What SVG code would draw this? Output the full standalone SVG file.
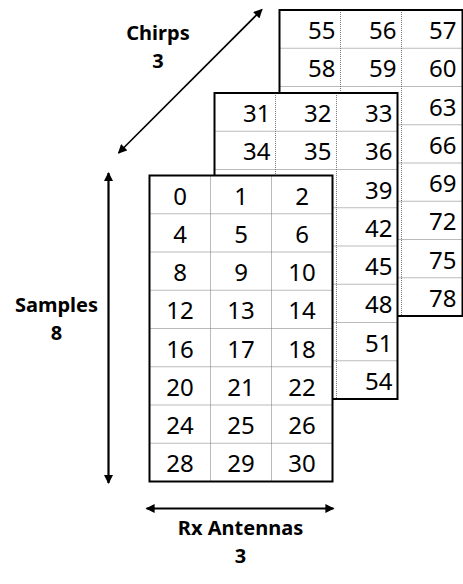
<svg xmlns="http://www.w3.org/2000/svg" xmlns:xlink="http://www.w3.org/1999/xlink" width="463" height="584" viewBox="0 0 463 584">
<style>
.num{font-family:"Noto Sans","Open Sans","DejaVu Sans",sans-serif;font-size:24px;fill:#000}
.c{text-anchor:middle}
.r{text-anchor:end}
.lbl{font-family:"Noto Sans","Open Sans","DejaVu Sans",sans-serif;font-size:20px;font-weight:bold;fill:#000;text-anchor:middle}
.grid-line{stroke:#777;stroke-width:1;stroke-dasharray:1 1;fill:none}
.grid-border{fill:none;stroke:#000;stroke-width:2}
.arrow{stroke:#000;stroke-width:2.2;fill:none;marker-start:url(#ah);marker-end:url(#ah)}
</style>
<defs>
<marker id="ah" viewBox="0 0 10 10" refX="9" refY="5" markerWidth="10" markerHeight="9" markerUnits="userSpaceOnUse" orient="auto-start-reverse">
<path d="M0,0 L10,5 L0,10 z" fill="#000"/>
</marker>
<g id="grid">
<rect x="0" y="0" width="183" height="306" fill="#fff"/>
<path class="grid-line" d="M61,0V306M122,0V306M0,38.25H183M0,76.5H183M0,114.75H183M0,153H183M0,191.25H183M0,229.5H183M0,267.75H183"/>
<rect class="grid-border" x="0" y="0" width="183" height="306"/>
</g>
</defs>
<rect width="463" height="584" fill="#fff"/>

<g id="chirp3">
<use xlink:href="#grid" href="#grid" x="279.5" y="10"/>
<g class="num r">
<text x="335.5" y="39">55</text><text x="396.5" y="39">56</text><text x="456.5" y="39">57</text>
<text x="335.5" y="77.25">58</text><text x="396.5" y="77.25">59</text><text x="456.5" y="77.25">60</text>
<text x="456.5" y="115.5">63</text>
<text x="456.5" y="153.75">66</text>
<text x="456.5" y="192">69</text>
<text x="456.5" y="230.25">72</text>
<text x="456.5" y="268.5">75</text>
<text x="456.5" y="306.75">78</text>
</g>
</g>

<g id="chirp2">
<use xlink:href="#grid" href="#grid" x="214.5" y="93"/>
<g class="num r">
<text x="270.5" y="122">31</text><text x="331.5" y="122">32</text><text x="392.5" y="122">33</text>
<text x="270.5" y="160.25">34</text><text x="331.5" y="160.25">35</text><text x="392.5" y="160.25">36</text>
<text x="392.5" y="198.5">39</text>
<text x="392.5" y="236.75">42</text>
<text x="392.5" y="275">45</text>
<text x="392.5" y="313.25">48</text>
<text x="392.5" y="351.5">51</text>
<text x="392.5" y="389.75">54</text>
</g>
</g>

<g id="chirp1">
<use xlink:href="#grid" href="#grid" x="149.5" y="175.5"/>
<g class="num c">
<text x="180" y="204.5">0</text><text x="241" y="204.5">1</text><text x="302" y="204.5">2</text>
<text x="180" y="242.75">4</text><text x="241" y="242.75">5</text><text x="302" y="242.75">6</text>
<text x="180" y="281">8</text><text x="241" y="281">9</text><text x="302" y="281">10</text>
<text x="180" y="319.25">12</text><text x="241" y="319.25">13</text><text x="302" y="319.25">14</text>
<text x="180" y="357.5">16</text><text x="241" y="357.5">17</text><text x="302" y="357.5">18</text>
<text x="180" y="395.75">20</text><text x="241" y="395.75">21</text><text x="302" y="395.75">22</text>
<text x="180" y="434">24</text><text x="241" y="434">25</text><text x="302" y="434">26</text>
<text x="180" y="472.25">28</text><text x="241" y="472.25">29</text><text x="302" y="472.25">30</text>
</g>
</g>

<g id="connectors">
<line class="arrow" x1="118.5" y1="153" x2="262" y2="9.5" style="stroke-width:1.6"/>
<line class="arrow" x1="108.5" y1="173" x2="108.5" y2="483"/>
<line class="arrow" x1="146.5" y1="508.5" x2="333.5" y2="508.5"/>
</g>

<g id="label-chirps">
<text class="lbl" x="158" y="40">Chirps</text>
<text class="lbl" x="158" y="68">3</text>
</g>
<g id="label-samples">
<text class="lbl" x="56.5" y="311.5">Samples</text>
<text class="lbl" x="56.5" y="340">8</text>
</g>
<g id="label-rx">
<text class="lbl" x="240.5" y="535">Rx Antennas</text>
<text class="lbl" x="240.5" y="563">3</text>
</g>
</svg>
